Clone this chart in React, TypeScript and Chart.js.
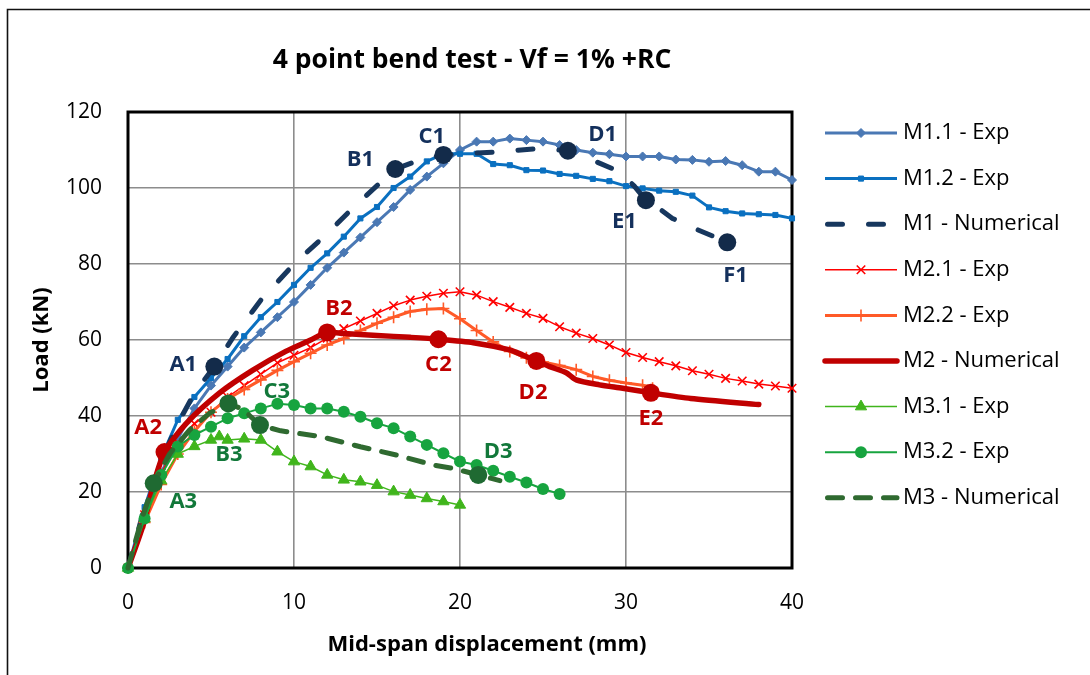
import React, { useEffect, useRef } from 'react';
import { Chart, registerables } from 'chart.js';
import { drawPoint } from 'chart.js/helpers';

Chart.register(...registerables);

// ---------- tick labels ----------
const xTicks = [0, 10, 20, 30, 40];
const yTicks = [0, 20, 40, 60, 80, 100, 120];

// ---------- series ----------
const seriesNames = [
  'M1.1 - Exp', 'M1.2 - Exp', 'M1 - Numerical',
  'M2.1 - Exp', 'M2.2 - Exp', 'M2 - Numerical',
  'M3.1 - Exp', 'M3.2 - Exp', 'M3 - Numerical',
];

const m11X = [0,1,2,3,4,5,6,7,8,9,10,11,12,13,14,15,16,17,18,19,20,21,22,23,24,25,26,27,28,29,30,31,32,33,34,35,36,37,38,39,40];
const m11Y = [0,14,25,34,42,48,53,58,62,66,70,74.5,79,83,87,91,95,99.5,103,106.5,110,112.2,112.2,113,112.6,112.2,111.3,110,109.3,108.9,108.3,108.3,108.3,107.5,107.4,106.9,107.1,106,104.3,104.3,102.1];

const m12X = [0,1,2,3,4,5,6,7,8,9,10,11,12,13,14,15,16,17,18,19,20,21,22,23,24,25,26,27,28,29,30,31,32,33,34,35,36,37,38,39,40];
const m12Y = [0,16,29,39,45,50,55,61,66,70,74.5,79,82.8,87.2,92,95,100,103,107,109,109,109,106.3,106,104.7,104.6,103.7,103.2,102.4,101.8,100.5,99.9,99.3,99,98,94.9,93.9,93.3,93.1,92.9,92];

const m1NumX = [0,1,2,3,4,5.2,6.3,8,10,12,13.6,16.1,17.4,19,22.3,24.8,26.5,28,29.6,30.5,31.2,31.9,32.8,34,35.3,36.1];
const m1NumY = [0,16,28,38,46,53,60.5,70.5,80,88,95,105,107.1,108.7,109.5,110.4,109.8,107.3,104.3,100.5,96.8,94.9,92,89.6,87.2,85.7];
const m1KeyIdx = [5, 11, 13, 16, 20, 25];

const m21X = [0,1,2,3,4,5,6,7,8,9,10,11,12,13,14,15,16,17,18,19,20,21,22,23,24,25,26,27,28,29,30,31,32,33,34,35,36,37,38,39,40];
const m21Y = [0,14,25,33,38,41,45,48,51,54,56,58,60.5,63,65,67,69,70.5,71.5,72.3,72.7,71.8,70.1,68.6,67,65.7,63.5,61.8,60.4,58.7,56.7,55.4,54.3,53.2,51.9,51,49.9,49.2,48.4,47.9,47.3];

const m22X = [0,1,2,3,4,5,6,7,8,9,10,11,12,13,14,15,16,17,18,19,20,21,22,23,24,25,26,27,28,29,30,31,31.6];
const m22Y = [0,12,22,30,36,41,44.5,47,49.5,52,54.3,56.5,58.7,60.4,62.5,64.4,66,67.5,68.1,68.3,65.6,62.5,59.5,57,55.3,54.2,53.3,52.2,50.4,49.4,48.7,48.1,47.3];

const m2NumX = [0,0.5,1,1.5,2.2,3.5,5.5,7.5,9.5,11,12,13,15,17,18.7,20.8,23,23.8,24.6,25.4,26.4,27,28.4,29.8,31.5,33.9,38];
const m2NumY = [0,6,12.5,21.4,30.5,38,46,52,57,60,62,61.7,61.2,60.7,60.2,59.3,57.4,56,54.5,53,51.4,49.5,48.2,47.3,46.1,44.6,43];
const m2KeyIdx = [4, 10, 14, 18, 24];

const m31X = [0,1,2,3,4,5,5.5,6,7,8,9,10,11,12,13,14,15,16,17,18,19,20];
const m31Y = [0,13,23,30,32,33.7,34.6,33.7,34,33.7,30.6,28,26.7,24.5,23.2,22.7,21.8,20.1,19.2,18.3,17.5,16.6];

const m32X = [0,1,2,3,4,5,6,7,8,9,10,11,12,13,14,15,16,17,18,19,20,21,22,23,24,25,26];
const m32Y = [0,13,24.5,32,35,37.2,39.4,40.7,42,43.2,42.9,42,42,41.1,39.8,38.1,36.8,34.6,32.4,30.2,28,27.1,25.6,24,22.5,20.8,19.5];

const m3NumX = [0,0.8,1.55,2.5,3.7,4.9,6.05,6.9,7.95,9.2,11.6,14,16.2,18.4,19.6,21.1,22.4];
const m3NumY = [0,12.5,22.3,30,36.3,40.7,43.3,41.8,37.6,36.1,34.6,31.9,29.7,27.1,26.2,24.5,23];
const m3KeyIdx = [2, 6, 8, 15];

// ---------- point annotations ----------
const m1LabelText = ['A1', 'B1', 'C1', 'D1', 'E1', 'F1'];
const m1LabelX = [3.33, 14.0, 18.3, 28.6, 29.9, 36.6];
const m1LabelY = [53.4, 107.5, 113.6, 113.9, 91.1, 76.9];

const m2LabelText = ['A2', 'B2', 'C2', 'D2', 'E2'];
const m2LabelX = [1.22, 12.7, 18.7, 24.4, 31.5];
const m2LabelY = [36.8, 68.3, 53.4, 46.1, 39.4];

const m3LabelText = ['A3', 'B3', 'C3', 'D3'];
const m3LabelX = [3.33, 6.08, 8.96, 22.3];
const m3LabelY = [17.4, 29.7, 46.4, 30.6];

const pts = (xs: number[], ys: number[]) => xs.map((x, i) => ({ x, y: ys[i] }));

const FONT = '"Open Sans", "DejaVu Sans", sans-serif';

const keyRadius = (idx: number[], r: number) => (c: any) => (idx.includes(c.dataIndex) ? r : 0);

function buildDatasets() {
  const common = { fill: false, clip: false as any, tension: 0 };
  return [
    { ...common, label: seriesNames[0], data: pts(m11X, m11Y), borderColor: '#4A78B4', backgroundColor: '#4A78B4', borderWidth: 3,
      pointStyle: 'rectRot', pointRadius: 4.5, pointBorderWidth: 1, order: 9 },
    { ...common, label: seriesNames[1], data: pts(m12X, m12Y), borderColor: '#0A70C0', backgroundColor: '#0A70C0', borderWidth: 3,
      pointStyle: 'rect', pointRadius: 3.6, pointBorderWidth: 1, order: 8 },
    { ...common, label: seriesNames[2], data: pts(m1NumX, m1NumY), borderColor: '#17375E', backgroundColor: '#132B4A', borderWidth: 5,
      borderDash: [15, 26], borderCapStyle: 'round', pointStyle: 'circle', pointRadius: keyRadius(m1KeyIdx, 9), pointBorderWidth: 0, order: 7 },
    { ...common, label: seriesNames[3], data: pts(m21X, m21Y), borderColor: '#FF0000', backgroundColor: '#FF0000', borderWidth: 1.5,
      pointStyle: 'crossRot', pointRadius: 6, pointBorderWidth: 1.6, order: 6 },
    { ...common, label: seriesNames[4], data: pts(m22X, m22Y), borderColor: '#FF5A28', backgroundColor: '#FF5A28', borderWidth: 3,
      pointStyle: 'cross', pointRadius: 6, pointBorderWidth: 1.6, order: 5 },
    { ...common, label: seriesNames[5], data: pts(m2NumX, m2NumY), borderColor: '#C00000', backgroundColor: '#C00000', borderWidth: 5.5,
      tension: 0.25, borderCapStyle: 'round', pointStyle: 'circle', pointRadius: keyRadius(m2KeyIdx, 9), pointBorderWidth: 0, order: 4 },
    { ...common, label: seriesNames[6], data: pts(m31X, m31Y), borderColor: '#40B51C', backgroundColor: '#40B51C', borderWidth: 1.5,
      pointStyle: 'triangle', pointRadius: 6.5, pointBorderWidth: 1, order: 3 },
    { ...common, label: seriesNames[7], data: pts(m32X, m32Y), borderColor: '#17A43F', backgroundColor: '#17A43F', borderWidth: 2,
      pointStyle: 'circle', pointRadius: 6, pointBorderWidth: 0, order: 2 },
    { ...common, label: seriesNames[8], data: pts(m3NumX, m3NumY), borderColor: '#2F6A30', backgroundColor: '#1F6A32', borderWidth: 5,
      borderDash: [15, 13], borderCapStyle: 'round', pointStyle: 'circle', pointRadius: keyRadius(m3KeyIdx, 9), pointBorderWidth: 0, order: 1 },
  ];
}

const decorPlugin = {
  id: 'decor',
  beforeDraw(chart: any) {
    const ctx = chart.ctx;
    ctx.save();
    ctx.fillStyle = '#ffffff';
    ctx.fillRect(0, 0, chart.width, chart.height);
    ctx.strokeStyle = '#111';
    ctx.lineWidth = 1.6;
    ctx.beginPath();
    ctx.moveTo(7.5, chart.height);
    ctx.lineTo(7.5, 9.5);
    ctx.lineTo(chart.width, 9.5);
    ctx.stroke();
    ctx.restore();
  },
  beforeDatasetsDraw(chart: any) {
    const ctx = chart.ctx;
    const { left, top, right, bottom } = chart.chartArea;
    ctx.save();
    ctx.strokeStyle = '#000';
    ctx.lineWidth = 3;
    ctx.strokeRect(left, top, right - left, bottom - top);
    ctx.restore();
  },
  afterDatasetsDraw(chart: any) {
    const ctx = chart.ctx;
    const xs = chart.scales.x;
    const ys = chart.scales.y;
    ctx.save();
    ctx.font = `bold 22px ${FONT}`;
    ctx.textAlign = 'center';
    ctx.textBaseline = 'middle';
    const groups: [string[], number[], number[], string][] = [
      [m1LabelText, m1LabelX, m1LabelY, '#14305C'],
      [m2LabelText, m2LabelX, m2LabelY, '#C00000'],
      [m3LabelText, m3LabelX, m3LabelY, '#12783A'],
    ];
    for (const [t, lx, ly, col] of groups) {
      ctx.fillStyle = col;
      t.forEach((s, i) => ctx.fillText(s, xs.getPixelForValue(lx[i]), ys.getPixelForValue(ly[i])));
    }
    ctx.restore();
  },
  afterDraw(chart: any) {
    const ctx = chart.ctx;
    ctx.save();
    // chart title
    ctx.fillStyle = '#000';
    ctx.textAlign = 'center';
    ctx.textBaseline = 'middle';
    ctx.font = `bold 26.5px ${FONT}`;
    ctx.fillText('4 point bend test - Vf = 1% +RC', 472, 60);
    // axis titles
    ctx.font = `bold 22px ${FONT}`;
    ctx.fillText('Mid-span displacement (mm)', 487, 645);
    ctx.save();
    ctx.translate(42, 340);
    ctx.rotate(-Math.PI / 2);
    ctx.fillText('Load (kN)', 0, 0);
    ctx.restore();
    // legend
    const x1 = 825, x2 = 897, xm = 861, tx = 903;
    chart.data.datasets.forEach((ds: any, i: number) => {
      const y = 133 + i * 45.6;
      ctx.save();
      ctx.strokeStyle = ds.borderColor;
      ctx.lineWidth = ds.borderWidth;
      ctx.lineCap = ds.borderCapStyle === 'round' ? 'round' : 'butt';
      ctx.setLineDash(ds.borderDash || []);
      ctx.beginPath();
      ctx.moveTo(x1 + (ds.borderDash ? 2.5 : 0), y);
      ctx.lineTo(x2, y);
      ctx.stroke();
      ctx.setLineDash([]);
      if (typeof ds.pointRadius === 'number' && ds.pointRadius > 0) {
        ctx.fillStyle = ds.backgroundColor;
        ctx.strokeStyle = ds.borderColor;
        ctx.lineWidth = ds.pointBorderWidth;
        drawPoint(ctx, { pointStyle: ds.pointStyle, rotation: 0, radius: ds.pointRadius, borderWidth: ds.pointBorderWidth }, xm, y);
      }
      ctx.restore();
      ctx.fillStyle = '#000';
      ctx.textAlign = 'left';
      ctx.textBaseline = 'middle';
      ctx.font = `22px ${FONT}`;
      ctx.fillText(ds.label, tx, y);
    });
    ctx.restore();
  },
};

export default function App() {
  const ref = useRef<HTMLCanvasElement | null>(null);
  useEffect(() => {
    if (!ref.current) return;
    const chart = new Chart(ref.current, {
      type: 'line',
      data: { datasets: buildDatasets() as any },
      options: {
        animation: false,
        responsive: true,
        maintainAspectRatio: false,
        layout: { padding: { left: 0, right: 298, top: 112, bottom: 0 } },
        plugins: { legend: { display: false }, title: { display: false }, tooltip: { enabled: false } },
        elements: { line: { borderJoinStyle: 'round' } },
        scales: {
          x: {
            type: 'linear', min: 0, max: 40,
            afterFit: (s: any) => { s.height = 107; },
            afterBuildTicks: (s: any) => { s.ticks = xTicks.map((v) => ({ value: v })); },
            grid: { color: '#8C8C8C', lineWidth: 1.6, drawTicks: false },
            border: { display: false },
            ticks: { padding: 22, color: '#000', font: { family: FONT, size: 21 } },
          },
          y: {
            type: 'linear', min: 0, max: 120,
            afterFit: (s: any) => { s.width = 128; },
            afterBuildTicks: (s: any) => { s.ticks = yTicks.map((v) => ({ value: v })); },
            grid: { color: '#8C8C8C', lineWidth: 1.6, drawTicks: false },
            border: { display: false },
            ticks: { padding: 26, color: '#000', font: { family: FONT, size: 21 } },
          },
        },
      },
      plugins: [decorPlugin],
    });
    return () => chart.destroy();
  }, []);
  return (
    <div style={{ position: 'fixed', left: 0, top: 0, width: 1090, height: 675, background: '#fff' }}>
      <canvas ref={ref} />
    </div>
  );
}
